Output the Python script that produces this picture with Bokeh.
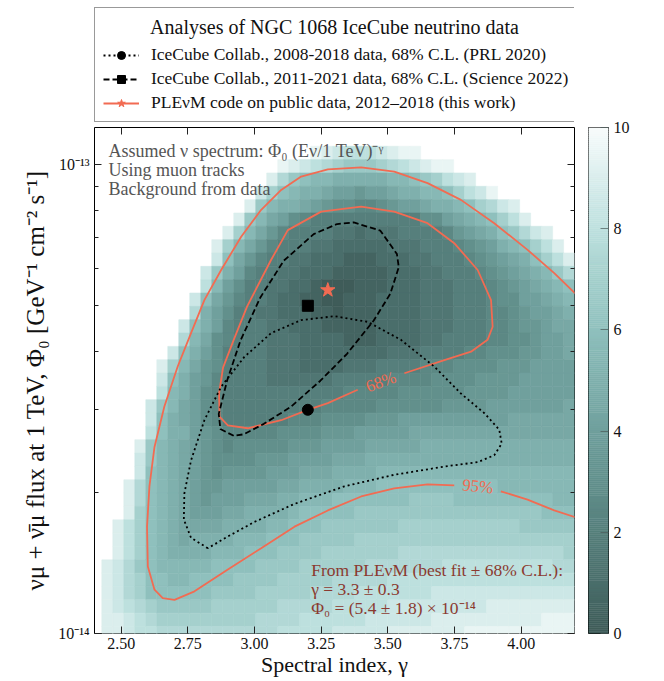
import numpy as np
from bokeh.plotting import figure
from bokeh.layouts import row, column
from bokeh.models import (FixedTicker, LinearAxis, LogAxis, Label, Legend, LegendItem, Range1d,
                          CustomJSTickFormatter, NumeralTickFormatter, ColumnDataSource)
from bokeh.transform import linear_cmap
from bokeh.embed import file_html
from bokeh.resources import INLINE

# ---------------- data ----------------
x_tick_values = [2.50, 2.75, 3.00, 3.25, 3.50, 3.75, 4.00]
y_major_ticks = [1e-14, 1e-13]
y_minor_ticks = [2e-14, 3e-14, 4e-14, 5e-14, 6e-14, 7e-14, 8e-14, 9e-14]
cbar_ticks = [0, 2, 4, 6, 8, 10]

# likelihood scan grid
gamma_first_edge = 2.4275
gamma_step = 0.04123
log_flux_top_edge = -12.904
log_flux_step = 0.02845

# -2 Delta LLH per cell: one string per flux row (top first), one char per gamma column
# '0'..'9' integer value, 'a'..'j' = 0.5 .. 9.5, '.' = not shown
llh_rows = [
    "." * 43,
    "." * 43,
    "." * 19 + "j9i888i9jj" + "." * 14,
    "." * 16 + "j9i8h7ggg7h8i9jj" + "." * 11,
    "." * 15 + "9hg6ff55555ff6g78i9" + "." * 9,
    "." * 14 + "i76f55e44d44e55ff678ij" + "." * 7,
    "." * 13 + "9gf55e4d33cc3d44e55f67hi9" + "." * 5,
    "." * 12 + "9gfe43c" + "2" * 10 + "334e5f6789" + "." * 4,
    "." * 11 + "97fedc2222bb1bbb2222cd4e56ghi9" + "." * 2,
    "." * 10 + "97fedc222bb" + "1" * 5 + "bbb222c3d45f6789" + ".",
    "." * 10 + "i6edc22bb111aaa111bb222c3d4e56789",
    "." * 9 + "ig54c22bb111" + "a" * 5 + "111bb222c3d4e5fgh",
    "." * 9 + "8f4322bb11a000aaa111bbb222c3d4e5f6",
    "." * 8 + "i6edc22b11aa00aaa1111bbb222c3344e5f",
    "." * 8 + "h54322bb111aa0aaa1111bbb222cc3d44e5",
    "." * 7 + "i654c222bb111" + "a" * 5 + "1111bbb222cc3dd4ee",
    "." * 7 + "hfe3c222bbb1111aaa1111bb2222cc33d44e",
    "." * 6 + "i65432222bbb" + "1" * 8 + "bbb2222cc333dd44e",
    "." * 5 + "97fed3" + "2" * 4 + "bbb1111bbb2222ccc3333ddd4444",
    "." * 5 + "i654dc2222" + "b" * 6 + "2" * 5 + "cccc3333dddd44444",
    "." * 5 + "8f543c" + "2" * 11 + "c" * 5 + "3" * 6 + "d" * 4 + "4" * 6,
    "." * 4 + "igfe43c" + "2" * 9 + "c" * 5 + "3" * 6 + "d" * 4 + "4" * 7 + "e",
    "." * 4 + "i65e43c" + "2" * 6 + "ccc" + "3" * 4 + "ddd" + "4" * 10 + "e" * 6,
    "." * 4 + "86554d3" + "c" * 5 + "3" * 4 + "ddd" + "4" * 5 + "e" * 15,
    "." * 3 + "9gf5e4d3c" + "3" * 5 + "ddd" + "4" * 4 + "e" * 5 + "5" * 14,
    "." * 3 + "igf5e4d" + "3" * 4 + "ddd" + "4" * 4 + "eee" + "5" * 19,
    "." * 3 + "i6f5e4d3" + "d" * 4 + "444" + "eee" + "5" * 4 + "f" * 18,
    "." * 2 + "9h6f5e4dd" + "4" * 5 + "ee" + "5" * 4 + "fff" + "6" * 11 + "f" * 7,
    "." * 2 + "9h6f5e4d" + "444" + "eee" + "55" + "fff" + "6" * 7 + "gggg" + "6" * 9 + "ff",
    "." * 2 + "976f5e" + "444" + "ee" + "5" * 4 + "f" + "6" * 5 + "g" * 17 + "666",
    "." + "9876f5" + "e" * 4 + "5" * 4 + "ff" + "666" + "g" * 7 + "7" * 11 + "g" * 5,
    "." + "9876f5e" + "5" * 4 + "fff" + "666" + "g" * 5 + "7" * 20,
    "." + "9876f" + "5" * 4 + "fff" + "666" + "g" * 4 + "7" * 7 + "h" * 15 + "7",
    "9ihg6" + "f" * 5 + "6" * 4 + "g" * 4 + "7" * 6 + "h" * 7 + "8" * 10 + "hh",
    "9ih766ff" + "6" * 4 + "g" * 4 + "7" * 5 + "h" * 5 + "8" * 17,
    "9ih7" + "6" * 6 + "g" * 4 + "7" * 5 + "h" * 4 + "8" * 7 + "i" * 13,
    "9i8h7" + "g" * 5 + "7" * 6 + "h" * 5 + "8" * 5 + "i" * 9 + "9" * 8,
    "99i8h" + "7" * 9 + "h" * 4 + "8" * 6 + "i" * 6 + "9" * 10 + "jjj",
    "99i88" + "h" * 11 + "8" * 5 + "i" * 5 + "9" * 7 + "j" * 10,
]
half_codes = {"a": 0.5, "b": 1.5, "c": 2.5, "d": 3.5, "e": 4.5,
              "f": 5.5, "g": 6.5, "h": 7.5, "i": 8.5, "j": 9.5}

# PLEnuM 95% contour (flux in units of 1e-14), two pieces around the "95%" label
c95a_gamma = [4.203, 4.124, 4.024, 3.899, 3.774, 3.649, 3.524, 3.400, 3.275, 3.175, 3.100, 3.025,
              2.950, 2.875, 2.812, 2.762, 2.712, 2.662, 2.625, 2.606, 2.597, 2.600, 2.625, 2.656,
              2.700, 2.775, 2.900, 3.025, 3.150, 3.275, 3.400, 3.524, 3.649, 3.749]
c95a_flux = [5.31, 5.87, 6.58, 7.50, 8.41, 9.13, 9.66, 9.87, 9.77, 9.43, 8.83, 8.01,
             7.02, 5.96, 5.14, 4.37, 3.71, 3.05, 2.50, 2.06, 1.69, 1.39, 1.24, 1.19,
             1.18, 1.23, 1.37, 1.52, 1.69, 1.83, 1.96, 2.04, 2.08, 2.07]
c95b_gamma = [3.924, 4.024, 4.124, 4.203]
c95b_flux = [2.01, 1.93, 1.83, 1.77]

# PLEnuM 68% contour (open at the "68%" label)
c68_gamma = [3.562, 3.712, 3.812, 3.874, 3.893, 3.887, 3.837, 3.749, 3.649, 3.524, 3.400, 3.250,
             3.125, 3.062, 2.972, 2.922, 2.882, 2.867, 2.869, 2.900, 2.975, 3.100, 3.200, 3.275, 3.387]
c68_flux = [3.59, 3.83, 3.99, 4.23, 4.51, 5.14, 5.96, 6.80, 7.50, 7.94, 8.14, 7.94,
            7.25, 6.26, 4.98, 4.23, 3.69, 3.25, 2.90, 2.78, 2.74, 2.85, 3.00, 3.10, 3.31]

# IceCube Science 2022, 68% C.L.
sci_gamma = [2.922, 2.872, 2.866, 2.897, 2.947, 3.022, 3.110, 3.222, 3.310, 3.372, 3.472, 3.534,
             3.541, 3.509, 3.447, 3.347, 3.247, 3.135, 3.035, 2.960, 2.922]
sci_flux = [2.64, 2.73, 2.94, 3.46, 4.21, 5.21, 6.24, 7.11, 7.47, 7.53, 7.23, 6.45,
            6.04, 5.30, 4.65, 3.95, 3.46, 3.04, 2.80, 2.66, 2.64]

# IceCube PRL 2020, 68% C.L.
prl_gamma = [2.825, 2.762, 2.735, 2.737, 2.762, 2.812, 2.875, 2.962, 3.062, 3.175, 3.300, 3.425,
             3.549, 3.674, 3.774, 3.862, 3.918, 3.927, 3.899, 3.837, 3.712, 3.524, 3.337, 3.150,
             3.000, 2.900, 2.825]
prl_flux = [1.52, 1.60, 1.75, 1.99, 2.34, 2.85, 3.36, 3.89, 4.37, 4.66, 4.75, 4.62,
            4.23, 3.71, 3.25, 2.95, 2.72, 2.54, 2.40, 2.32, 2.27, 2.18, 2.06, 1.89,
            1.73, 1.61, 1.52]

# best fits
prl_best = (3.20, 3.0e-14)
sci_best = (3.20, 5.0e-14)
plenum_best = (3.275, 5.4e-14)

# contour level labels
level_text = ["68%", "95%"]
level_gamma = [3.474, 3.837]
level_flux = [3.44e-14, 2.06e-14]
level_angle = [20, -6]

legend_title = "Analyses of NGC 1068 IceCube neutrino data"
legend_labels = ["IceCube Collab., 2008-2018 data, 68% C.L. (PRL 2020)",
                 "IceCube Collab., 2011-2021 data, 68% C.L. (Science 2022)",
                 "PLE\u03bdM code on public data, 2012\u20132018 (this work)"]

# ---------------- styling ----------------
FONT = "Liberation Serif"
SALMON = "#F26B52"
anchor_vals = [0, 1, 2, 3, 4, 5, 6, 7, 8, 9, 10]
anchor_cols = ["#3f5c59", "#4a6e6b", "#567f7c", "#62908c", "#70a09d", "#7fb0ad",
               "#8fc0bd", "#a5d0cd", "#bde0de", "#daeeed", "#f7fbfb"]


def _hex2rgb(h):
    return [int(h[i:i + 2], 16) for i in (1, 3, 5)]


_rgb = np.array([_hex2rgb(c) for c in anchor_cols], float)
_t = np.linspace(0, 10, 256)
palette = ["#%02x%02x%02x" % tuple(int(round(np.interp(t, anchor_vals, _rgb[:, k]))) for k in range(3))
           for t in _t]

# ---------------- heatmap cells ----------------
left, right, bottom, top, val = [], [], [], [], []
for k, rs in enumerate(llh_rows):
    rs = (rs + "." * 43)[:43]
    lt = log_flux_top_edge - k * log_flux_step
    lb = lt - log_flux_step
    for c, ch in enumerate(rs):
        if ch == ".":
            continue
        v = half_codes[ch] if ch in half_codes else float(ch)
        g0 = gamma_first_edge + c * gamma_step
        left.append(g0)
        right.append(g0 + gamma_step)
        bottom.append(10 ** lb)
        top.append(10 ** lt)
        val.append(v)
heat = ColumnDataSource(dict(left=left, right=right, bottom=bottom, top=top, val=val))

# ---------------- geometry (page has no margin) ----------------
TOTAL_H = 680
LEG_H = 124
TOP_B = 3
BOT_B = 47
MAIN_W = 580
H = TOTAL_H - LEG_H

p = figure(width=MAIN_W, height=H, x_range=(2.4, 4.2), y_range=(1e-14, 1.2e-13), y_axis_type="log",
           output_backend="svg", toolbar_location=None,
           min_border_left=94, min_border_right=6, min_border_top=TOP_B, min_border_bottom=BOT_B,
           background_fill_color="white", border_fill_color="white",
           outline_line_color="black", outline_line_width=1)
p.grid.visible = False

cmap = linear_cmap("val", palette, 0, 10)
p.quad(left="left", right="right", bottom="bottom", top="top", source=heat,
       fill_color=cmap, line_color=cmap, line_width=0.6)

s = 1e-14
LINE_STYLES = [dict(line_color="black", line_width=1.8, line_dash="2 3"),
               dict(line_color="black", line_width=1.8, line_dash="6 3"),
               dict(line_color=SALMON, line_width=1.8)]
MARKERS = [dict(marker="circle", size=11, color="black"),
           dict(marker="square", size=11, color="black"),
           dict(marker="star", size=15, color=SALMON)]

p.line(c95a_gamma, [f * s for f in c95a_flux], **LINE_STYLES[2])
p.line(c95b_gamma, [f * s for f in c95b_flux], **LINE_STYLES[2])
p.line(c68_gamma, [f * s for f in c68_flux], **LINE_STYLES[2])
p.line(sci_gamma, [f * s for f in sci_flux], **LINE_STYLES[1])
p.line(prl_gamma, [f * s for f in prl_flux], **LINE_STYLES[0])
p.scatter([prl_best[0]], [prl_best[1]], **MARKERS[0])
p.scatter([sci_best[0]], [sci_best[1]], **MARKERS[1])
p.scatter([plenum_best[0]], [plenum_best[1]], **MARKERS[2])

for t, g, f, a in zip(level_text, level_gamma, level_flux, level_angle):
    p.add_layout(Label(x=g, y=f, text=t, angle=a, angle_units="deg", text_align="center",
                       text_baseline="middle", text_font=FONT, text_font_size="17px",
                       text_color=SALMON))

# axes
p.xaxis.ticker = FixedTicker(ticks=x_tick_values)
p.xaxis.formatter = NumeralTickFormatter(format="0.00")
p.yaxis.ticker = FixedTicker(ticks=y_major_ticks, minor_ticks=y_minor_ticks)
sup_js = """
const m = {'-':'\u207b','0':'\u2070','1':'\u00b9','2':'\u00b2','3':'\u00b3','4':'\u2074',
           '5':'\u2075','6':'\u2076','7':'\u2077','8':'\u2078','9':'\u2079'};
const e = Math.round(Math.log10(tick));
return '10' + String(e).split('').map(c => m[c]).join('');
"""
p.yaxis.formatter = CustomJSTickFormatter(code=sup_js)
for ax in (p.xaxis[0], p.yaxis[0]):
    ax.major_tick_in = 7
    ax.major_tick_out = 0
    ax.minor_tick_in = 4
    ax.minor_tick_out = 0
    ax.axis_line_color = None
    ax.major_tick_line_color = "#222222"
    ax.minor_tick_line_color = "#222222"
    ax.major_label_text_font = FONT
    ax.major_label_text_font_size = "16px"
    ax.major_label_text_color = "#111111"
    ax.axis_label_text_font = FONT
    ax.axis_label_text_font_style = "normal"
    ax.axis_label_text_color = "#111111"
p.xaxis.minor_tick_line_color = None
p.xaxis.major_label_standoff = 4
p.xaxis.axis_label = "Spectral index, \u03b3"
p.xaxis.axis_label_text_font_size = "22px"
p.xaxis.axis_label_standoff = 0
p.yaxis.major_label_standoff = 5
p.yaxis.axis_label = "\u03bd\u03bc + \u03bd\u0304\u03bc flux at 1 TeV, \u03a6\u2080 [GeV\u207b\u00b9 cm\u207b\u00b2 s\u207b\u00b9]"
p.yaxis.axis_label_text_font_size = "25px"
p.yaxis.axis_label_standoff = 6

blank = CustomJSTickFormatter(code="return ''")
top_ax = LinearAxis(ticker=FixedTicker(ticks=x_tick_values), formatter=blank,
                    major_tick_in=7, major_tick_out=0, minor_tick_line_color=None,
                    axis_line_color=None, major_tick_line_color="#222222", major_label_standoff=0,
                    major_label_text_font_size="0px")
right_ax = LogAxis(ticker=FixedTicker(ticks=y_major_ticks, minor_ticks=y_minor_ticks), formatter=blank,
                   major_tick_in=7, major_tick_out=0, minor_tick_in=4, minor_tick_out=0,
                   axis_line_color=None, major_tick_line_color="#222222",
                   minor_tick_line_color="#222222", major_label_standoff=0,
                   major_label_text_font_size="0px")
p.add_layout(top_ax, "above")
p.add_layout(right_ax, "right")

# in-plot notes
notes = ["Assumed \u03bd spectrum: \u03a6\u2080 (E\u03bd/1 TeV)\u207b\u1d5e", "Using muon tracks",
         "Background from data"]
for i, t in enumerate(notes):
    p.add_layout(Label(x=14, y=482.7 - 19.3 * i, x_units="screen", y_units="screen", text=t,
                       text_font=FONT, text_font_size="18px", text_color="#555555",
                       text_baseline="alphabetic"))
fit_notes = ["From PLE\u03bdM (best fit \u00b1 68% C.L.):", "\u03b3 = 3.3 \u00b1 0.3",
             "\u03a6\u2080 = (5.4 \u00b1 1.8) \u00d7 10\u207b\u00b9\u2074"]
for i, t in enumerate(fit_notes):
    p.add_layout(Label(x=216.7, y=64 - 19 * i, x_units="screen", y_units="screen", text=t,
                       text_font=FONT, text_font_size="17.5px", text_color="#8B3A30",
                       text_baseline="alphabetic"))

# ---------------- legend strip (own figure above the plot, frame aligned with the plot) ----------------
lf = figure(width=MAIN_W, height=LEG_H, x_range=Range1d(0, 1), y_range=Range1d(0, 1),
            output_backend="svg", toolbar_location=None,
            min_border_left=94, min_border_right=6, min_border_top=0, min_border_bottom=0,
            x_axis_location=None, y_axis_location=None, outline_line_color=None,
            border_fill_color="white", background_fill_color="white")
lf.grid.visible = False
lf.add_layout(Label(x=240, y=LEG_H - 26.5, x_units="screen", y_units="screen",
                    text=legend_title, text_align="center",
                    text_baseline="middle", text_font=FONT, text_font_size="20px", text_color="#111111"))
items = []
for lab, ls, mk in zip(legend_labels, LINE_STYLES, MARKERS):
    rl = lf.line([-3, -2], [-3, -3], **ls)
    rm = lf.scatter([-3], [-3], **mk)
    items.append(LegendItem(label=lab, renderers=[rl, rm]))
legend = Legend(items=items, location=(0, 2), title=" ", title_text_font_size="18px", title_standoff=7,
                label_text_font=FONT, label_text_font_size="17.5px", label_text_color="#111111",
                glyph_width=36, glyph_height=20, label_height=20, label_width=408, label_standoff=12,
                padding=8, spacing=3, margin=0, border_line_color="#333333", border_line_width=1,
                background_fill_alpha=0.0)
lf.add_layout(legend, "center")

# ---------------- colour bar ----------------
cb = figure(width=84, height=TOTAL_H, x_range=(0, 1), y_range=(0, 10), output_backend="svg",
            toolbar_location=None, min_border_left=8, min_border_right=56, min_border_top=LEG_H + TOP_B,
            min_border_bottom=BOT_B, x_axis_location=None, y_axis_location="right",
            outline_line_color="black", outline_line_width=1, border_fill_color="white")
cb.grid.visible = False
lev = np.linspace(0, 10, len(palette) + 1)
cb.quad(left=0, right=1, bottom=lev[:-1], top=lev[1:], fill_color=palette, line_color=palette,
        line_width=0.5)
cax = cb.yaxis[0]
cax.ticker = FixedTicker(ticks=cbar_ticks)
cax.major_tick_in = 8
cax.major_tick_out = 0
cax.minor_tick_line_color = None
cax.axis_line_color = None
cax.major_tick_line_color = "#4a5a58"
cax.major_tick_line_alpha = 0.7
cax.major_label_standoff = 5
cax.major_label_text_font = FONT
cax.major_label_text_font_size = "16px"
cax.major_label_text_color = "#111111"
cb.add_layout(Label(x=52, y=265, x_units="screen", y_units="screen", text="Likelihood, \u22122\u0394 LLH",
                    angle=90, angle_units="deg", text_align="center", text_baseline="middle",
                    text_font=FONT, text_font_size="27px", text_color="#111111"))

layout = row(column(lf, p), cb)
open("out.html", "w", encoding="utf-8").write(file_html(layout, INLINE))
